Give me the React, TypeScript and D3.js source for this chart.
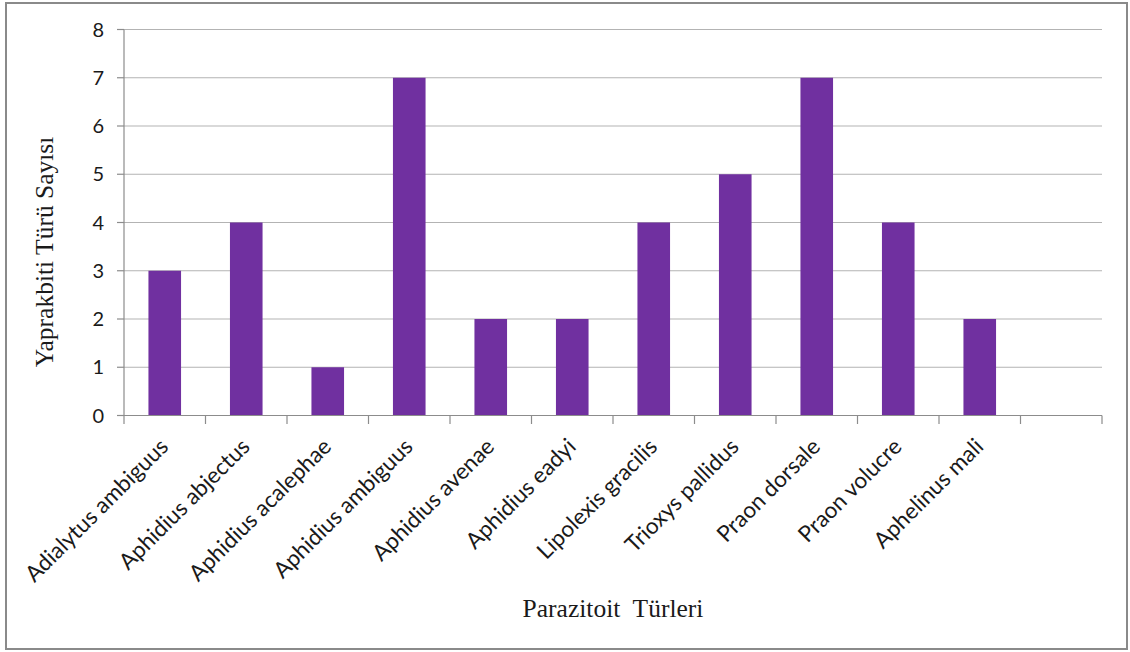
import React from "react";
import * as d3 from "d3";

const categories: string[] = [
  "Adialytus ambiguus",
  "Aphidius abjectus",
  "Aphidius acalephae",
  "Aphidius ambiguus",
  "Aphidius avenae",
  "Aphidius eadyi",
  "Lipolexis gracilis",
  "Trioxys pallidus",
  "Praon dorsale",
  "Praon volucre",
  "Aphelinus mali",
  "",
];
const values: (number | null)[] = [3, 4, 1, 7, 2, 2, 4, 5, 7, 4, 2, null];
const yTicks: number[] = [0, 1, 2, 3, 4, 5, 6, 7, 8];
const yTitle = "Yaprakbiti Türü Sayısı";
const xTitle = "Parazitoit  Türleri";

const W = 1130;
const H = 652;
const left = 124;
const right = 1102;
const top = 29.5;
const bottom = 415.5;

export default function App() {
  const x = d3
    .scaleBand<string>()
    .domain(categories.map((c, i) => String(i)))
    .range([left, right])
    .paddingInner(0.6)
    .paddingOuter(0.3);
  const step = (right - left) / categories.length;
  const y = d3.scaleLinear().domain([0, 8]).range([bottom, top]);
  const sans = "Lato, 'Open Sans', sans-serif";
  const serif = "'Liberation Serif', 'DejaVu Serif', serif";
  const gridColor = "#b3b3b3";
  const axisColor = "#8c8c8c";

  return (
    <div style={{ position: "absolute", left: 0, top: 0 }}>
      <svg width={W} height={H} style={{ display: "block" }}>
        <rect x={0} y={0} width={W} height={H} fill="#ffffff" />
        <rect
          x={6}
          y={3}
          width={1121}
          height={646}
          fill="#ffffff"
          stroke="#8a8a8a"
          strokeWidth={2}
        />
        {yTicks.map((t) =>
          t > 0 ? (
            <line
              key={"g" + t}
              x1={left}
              x2={right}
              y1={y(t)}
              y2={y(t)}
              stroke={gridColor}
              strokeWidth={1.2}
            />
          ) : null
        )}
        {yTicks.map((t) => (
          <line
            key={"yt" + t}
            x1={117}
            x2={left}
            y1={y(t)}
            y2={y(t)}
            stroke={axisColor}
            strokeWidth={1.2}
          />
        ))}
        {yTicks.map((t) => (
          <text
            key={"yl" + t}
            x={104}
            y={y(t)}
            dy="0.36em"
            textAnchor="end"
            fontFamily={sans}
            fontSize={20}
            fill="#1a1a1a"
          >
            {t}
          </text>
        ))}
        {categories.map((c, i) =>
          values[i] != null ? (
            <rect
              key={"b" + i}
              x={x(String(i))}
              width={x.bandwidth()}
              y={y(values[i] as number)}
              height={bottom - y(values[i] as number)}
              fill="#7030a0"
            />
          ) : null
        )}
        <line x1={left} x2={left} y1={top} y2={bottom} stroke={axisColor} strokeWidth={1.2} />
        <line x1={left} x2={right} y1={bottom} y2={bottom} stroke={axisColor} strokeWidth={1.2} />
        {d3.range(categories.length + 1).map((i) => (
          <line
            key={"xt" + i}
            x1={left + i * step}
            x2={left + i * step}
            y1={bottom}
            y2={bottom + 8.5}
            stroke={axisColor}
            strokeWidth={1.2}
          />
        ))}
        {categories.map((c, i) => {
          const cx = (x(String(i)) as number) + x.bandwidth() / 2;
          return (
            <text
              key={"xl" + i}
              transform={`translate(${cx + 5},${448}) rotate(-45)`}
              textAnchor="end"
              fontFamily={sans}
              fontSize={22.5}
              fill="#1a1a1a"
            >
              {c}
            </text>
          );
        })}
        <text
          transform={`translate(53,252) rotate(-90)`}
          textAnchor="middle"
          fontFamily={serif}
          fontSize={25.5}
          fill="#1a1a1a"
        >
          {yTitle}
        </text>
        <text
          x={613}
          y={617}
          textAnchor="middle"
          fontFamily={serif}
          fontSize={25.5}
          fill="#1a1a1a"
          style={{ whiteSpace: "pre" }}
        >
          {xTitle}
        </text>
      </svg>
    </div>
  );
}
